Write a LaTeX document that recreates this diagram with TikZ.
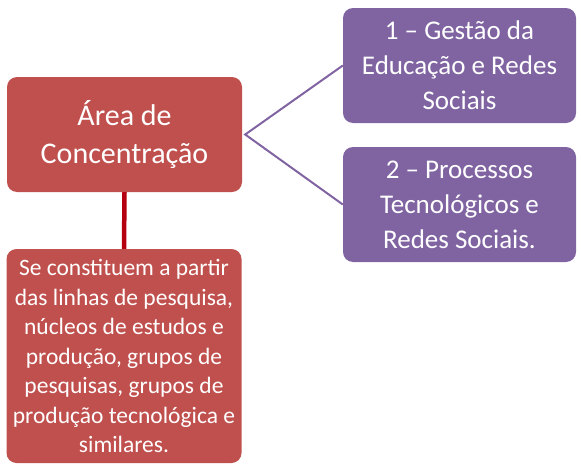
\documentclass[tikz,border=0pt]{standalone}
\usepackage{fontspec}
\setmainfont{Carlito}
\usepackage{xcolor}

\definecolor{areared}{RGB}{192,80,77}
\definecolor{linepurple}{RGB}{128,100,162}
\definecolor{stemred}{RGB}{180,0,16}

\tikzset{
  redbox/.style={fill=areared, draw=none, rounded corners=10pt, text=white, align=center, inner sep=0pt},
  purplebox/.style={fill=linepurple, draw=none, rounded corners=10pt, text=white, align=center, inner sep=0pt},
}

\begin{document}
\begin{tikzpicture}[x=1pt, y=-1pt]
      \useasboundingbox (0,0) rectangle (581,471);
      % main area box
      \node[redbox, minimum width=235pt, minimum height=115pt,
            font=\fontsize{30}{38}\selectfont] (area) at (124.5,134.5)
            {Área de\\Concentração};
      % research lines
      \node[purplebox, minimum width=233pt, minimum height=115pt,
            font=\fontsize{27}{35}\selectfont] (linha1) at (459.5,65.5)
            {1 – Gestão da\\Educação e Redes\\Sociais};
      \node[purplebox, minimum width=233pt, minimum height=115pt,
            font=\fontsize{27}{35}\selectfont] (linha2) at (459.5,204.5)
            {2 – Processos\\Tecnológicos e\\Redes Sociais.};
      % description box
      \node[redbox, minimum width=235pt, minimum height=214pt,
            font=\fontsize{23.5}{29.5}\selectfont] (desc) at (124,356)
            {Se constituem a partir\\das linhas de pesquisa,\\núcleos de estudos e\\produção, grupos de\\pesquisas, grupos de\\produção tecnológica e\\similares.};
      % connectors
      \coordinate (fork) at ([xshift=3pt]area.east);
      \draw[linepurple, line width=2pt] (linha1.west) -- (fork) -- (linha2.west);
      \draw[stemred, line width=4.5pt] (area.south) -- (desc.north);
    \end{tikzpicture}
\end{document}
